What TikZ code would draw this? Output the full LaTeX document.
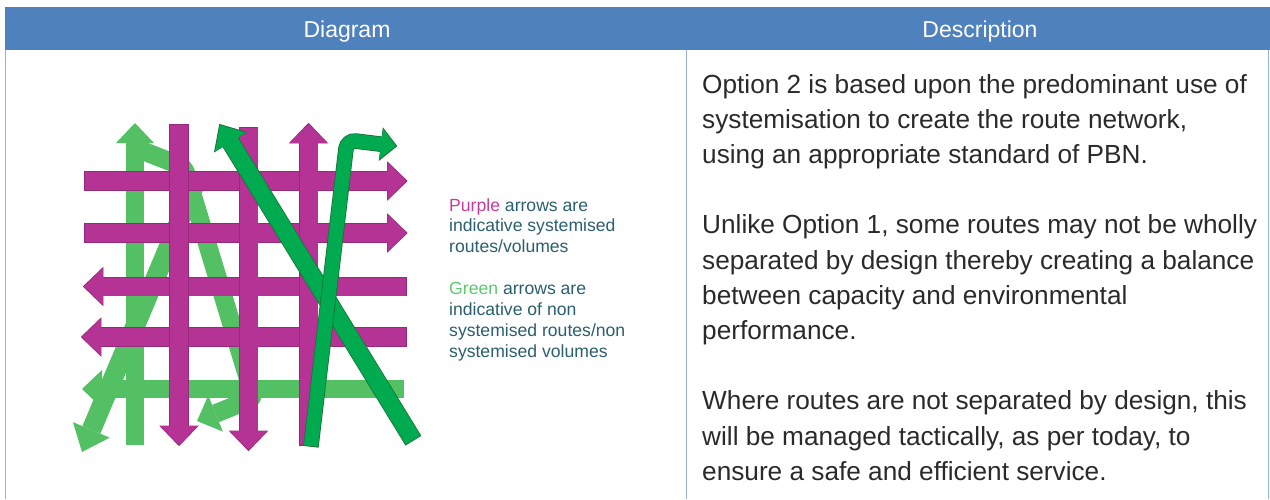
\documentclass[tikz,border=0pt]{standalone}
\usepackage{fontspec}
\setmainfont{Liberation Sans}
\usetikzlibrary{arrows.meta}
\definecolor{hdrblue}{HTML}{4F81BD}
\definecolor{gridblue}{HTML}{95B3D7}
\definecolor{purp}{HTML}{B53394}
\definecolor{purpedge}{HTML}{952A7B}
\definecolor{lgreen}{HTML}{53C163}
\definecolor{dgreen}{HTML}{00AA4E}
\definecolor{dgreenedge}{HTML}{1D7038}
\definecolor{legendtxt}{HTML}{2B5E6E}
\definecolor{purpletxt}{HTML}{C63DA0}
\definecolor{greentxt}{HTML}{5CC870}
\definecolor{bodytxt}{HTML}{2A2A2A}
\tikzset{
  parrow/.style={line width=18pt, draw=purp, -{Triangle[width=37pt,length=19pt,line width=0pt]}},
  pedge/.style={line width=19.4pt, draw=purpedge, shorten >=-1.2pt, shorten <=-0.7pt, -{Triangle[width=39.5pt,length=20.5pt,line width=0pt]}},
  lgarrow/.style={line width=18.5pt, draw=lgreen, -{Triangle[width=38pt,length=20pt,line width=0pt]}},
  dgdiag/.style={line width=17pt, draw=dgreen, -{Triangle[width=36pt,length=20pt,line width=0pt]}},
  dgdiagedge/.style={line width=18.6pt, draw=dgreenedge, shorten >=-1.3pt, shorten <=-0.8pt, -{Triangle[width=39pt,length=21.6pt,line width=0pt]}},
  dgbent/.style={line width=14pt, draw=dgreen, rounded corners=9pt, -{Triangle[width=31pt,length=15pt,line width=0pt]}},
  dgbentedge/.style={line width=15.6pt, draw=dgreenedge, rounded corners=9pt, shorten >=-1.3pt, shorten <=-0.8pt, -{Triangle[width=34pt,length=16.6pt,line width=0pt]}},
  hdr/.style={text=white, font=\fontsize{23}{27}\selectfont, anchor=base},
  legend/.style={text=legendtxt, font=\fontsize{17.6}{21}\selectfont, anchor=base west, inner sep=0pt},
  body/.style={text=bodytxt, font=\fontsize{26.2}{35}\selectfont, anchor=base west, inner sep=0pt},
  gridline/.style={draw=gridblue, line width=1.5pt}
}
\newcommand\purplearrow[2]{\draw[pedge] #1 -- #2; \draw[parrow] #1 -- #2;}
\begin{document}
\begin{tikzpicture}[x=1pt,y=-1pt]
\useasboundingbox (0,0) rectangle (1270,499);
% table frame
\fill[hdrblue] (4.5,7) rectangle (1269.5,50);
\draw[gridline] (5.5,50) -- (5.5,499);
\draw[gridline] (686.5,50) -- (686.5,499);
\draw[gridline] (1268.5,50) -- (1268.5,499);
\node[hdr] (hdiag) at (347,37.5) {Diagram};
\node[hdr] (hdesc) at (980,37.5) {Description};

% light green (non systemised) arrows
\draw[lgarrow] (135,445) -- (135,123);
\draw[lgarrow] (404,389) -- (82,389);
\draw[lgarrow, line width=19.5pt, -{Triangle[width=40pt,length=24pt,line width=0pt]}] (196,182) -- (82,452);
\draw[lgarrow, rounded corners=6pt, -{Triangle[width=39pt,length=20pt,line width=0pt]}] (138,149) -- (184,167) -- (254,398) -- (197,421);

% purple horizontal arrows
\purplearrow{(85,181)}{(406.5,181)}
\purplearrow{(85,233)}{(406.5,233)}
\purplearrow{(406,286.5)}{(84,286.5)}
\purplearrow{(406,337)}{(82,337)}
% purple vertical arrows
\purplearrow{(179,125)}{(179,445)}
\purplearrow{(248.5,128)}{(248.5,450)}
\purplearrow{(308.5,445)}{(308.5,124)}

% dark green arrows
\draw[dgdiagedge] (413,440) -- (220,125);
\draw[dgdiag] (413,440) -- (220,125);
\draw[dgbentedge] (311,446) -- (347,140) -- (396,146);
\draw[dgbent] (311,446) -- (347,140) -- (396,146);

% legend
\node[legend] (l1) at (449,211) {\textcolor{purpletxt}{Purple} arrows are};
\node[legend] (l2) at (449,231.5) {indicative systemised};
\node[legend] (l3) at (449,252) {routes/volumes};
\node[legend] (l4) at (449,294) {\textcolor{greentxt}{Green} arrows are};
\node[legend] (l5) at (449,315) {indicative of non};
\node[legend] (l6) at (449,336) {systemised routes/non};
\node[legend] (l7) at (449,357) {systemised volumes};

% description
\node[body] (d1) at (702,93) {Option 2 is based upon the predominant use of};
\node[body] (d2) at (702,128.2) {systemisation to create the route network,};
\node[body] (d3) at (702,163.4) {using an appropriate standard of PBN.};
\node[body] (d4) at (702,233.8) {Unlike Option 1, some routes may not be wholly};
\node[body] (d5) at (702,269) {separated by design thereby creating a balance};
\node[body] (d6) at (702,304.2) {between capacity and environmental};
\node[body] (d7) at (702,339.4) {performance.};
\node[body] (d8) at (702,409.8) {Where routes are not separated by design, this};
\node[body] (d9) at (702,445) {will be managed tactically, as per today, to};
\node[body] (d10) at (702,480.2) {ensure a safe and efficient service.};
\end{tikzpicture}
\end{document}
